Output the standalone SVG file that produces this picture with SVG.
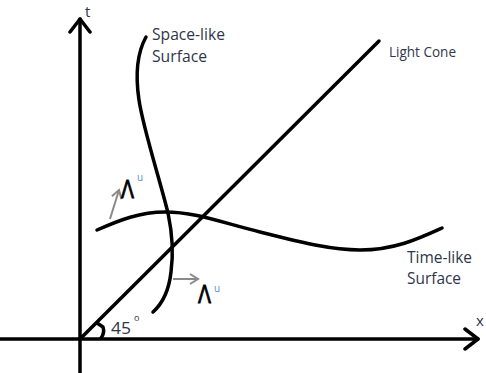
<svg xmlns="http://www.w3.org/2000/svg" width="486" height="373" viewBox="0 0 486 373">
<defs>
<style>
.ax{stroke:#000;stroke-width:3.5;fill:none;stroke-linecap:round;stroke-linejoin:round}
.cv{stroke:#000;stroke-width:3.5;fill:none;stroke-linecap:round}
.gr{stroke:#8a8a8a;stroke-width:2;fill:none}
.lbl{font-family:"Open Sans","Liberation Sans",Arial,sans-serif;fill:#30364a}
.sup{font-family:"Open Sans","Liberation Sans",Arial,sans-serif;fill:#5b8fc9;font-size:10px}
.lam{font-family:"Liberation Sans",Arial,sans-serif;fill:#000;stroke:#000;stroke-width:0.9;font-size:26px}
</style>
<marker id="ga" markerUnits="userSpaceOnUse" markerWidth="12" markerHeight="14" refX="9" refY="6" orient="auto">
<path d="M1,1 L9,6 L1,11" fill="none" stroke="#8a8a8a" stroke-width="2"/>
</marker>
<marker id="ba" markerUnits="userSpaceOnUse" markerWidth="20" markerHeight="26" refX="15" refY="12" orient="auto">
<path d="M2,2 L15,12 L2,22" fill="none" stroke="#000" stroke-width="3.5" stroke-linecap="round" stroke-linejoin="round"/>
</marker>
</defs>
<rect width="486" height="373" fill="#fff"/>
<g id="connectors">
<line class="ax" x1="80" y1="373" x2="80" y2="19" marker-end="url(#ba)"/>
<line class="ax" x1="0" y1="339" x2="478" y2="339" marker-end="url(#ba)"/>
<line id="light-cone" class="ax" x1="80" y1="339" x2="379" y2="41"/>
<path id="angle-mark" class="ax" stroke-width="2.5" d="M97,323 L103,327 Q105,333 101,338"/>
<path id="space-like-curve" class="cv" d="M146,37 C136,55 136,80 139,100 C143,128 160,180 168,213 C172,232 174,250 171,272 C169,290 162,304 153,312"/>
<path id="time-like-curve" class="cv" d="M97,230 C120,220 140,212 165,212 C195,212 220,222 260,232 C300,242 330,250 360,250 C395,250 420,238 442,228"/>
<line class="gr" x1="110" y1="219" x2="119" y2="190" marker-end="url(#ga)"/>
<line class="gr" x1="173" y1="279" x2="198" y2="279" marker-end="url(#ga)"/>
</g>
<g id="t-label"><text class="lbl" x="85" y="17" font-size="15">t</text></g>
<g id="x-label"><text class="lbl" x="476" y="326" font-size="15">x</text></g>
<g id="space-like-label">
<text class="lbl" x="152" y="40" font-size="16" textLength="73" lengthAdjust="spacingAndGlyphs">Space-like</text>
<text class="lbl" x="152" y="62" font-size="16" textLength="55" lengthAdjust="spacingAndGlyphs">Surface</text>
</g>
<g id="light-cone-label"><text class="lbl" x="389" y="57" font-size="14" textLength="67" lengthAdjust="spacingAndGlyphs">Light Cone</text></g>
<g id="time-like-label">
<text class="lbl" x="407" y="263" font-size="16" textLength="65" lengthAdjust="spacingAndGlyphs">Time-like</text>
<text class="lbl" x="407" y="284" font-size="16" textLength="54" lengthAdjust="spacingAndGlyphs">Surface</text>
</g>
<g id="angle-label"><text class="lbl" x="111" y="334" font-size="16" textLength="20" lengthAdjust="spacingAndGlyphs">45</text><text class="lbl" x="134" y="321" font-size="9">o</text></g>
<g id="lambda-1">
<text class="lam" x="121" y="198" textLength="13" lengthAdjust="spacingAndGlyphs">Λ</text>
<text class="sup" x="137" y="181">u</text>
</g>
<g id="lambda-2">
<text class="lam" x="198" y="303" textLength="13" lengthAdjust="spacingAndGlyphs">Λ</text>
<text class="sup" x="214" y="292">u</text>
</g>
</svg>
